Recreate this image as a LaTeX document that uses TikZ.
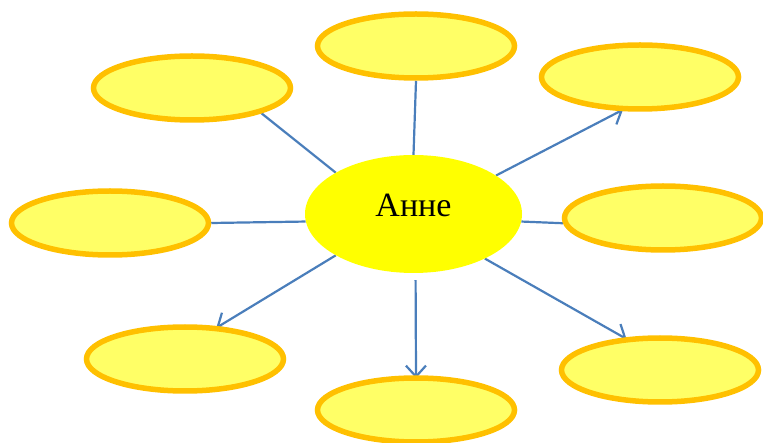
\documentclass[tikz,border=0pt]{standalone}
\usepackage{fontspec}
\setmainfont{Liberation Serif}
\usepackage{xcolor}
\usepackage{tikz}
\usetikzlibrary{shapes,arrows,arrows.meta,positioning,backgrounds}

\definecolor{bubbleedge}{HTML}{FFC000}
\definecolor{bubblefill}{HTML}{FFFF66}
\definecolor{centrefill}{HTML}{FFFF00}
\definecolor{linkblue}{HTML}{4A7EBB}

\tikzset{
  bubble/.style={shape=ellipse, draw=bubbleedge, fill=bubblefill, line width=5.5pt,
    minimum width=197pt, minimum height=64pt, inner sep=0pt},
  link/.style={draw=linkblue, line width=2.2pt},
  linkarrow/.style={link, -{Straight Barb[length=11pt,width=20pt,line width=2.2pt]}, shorten >=-3pt}
}

\begin{document}
\begin{tikzpicture}[x=1pt,y=-1pt]
\useasboundingbox (0,0) rectangle (763,443);

% Centre word
\node [shape=ellipse, fill=centrefill, minimum width=217pt, minimum height=118pt, inner sep=0pt,
  text height=24pt, text depth=18pt, font=\fontsize{34}{40}\selectfont] at (413.5,214) (anne) {Анне};

% Empty bubbles round it
\node [bubble] at (416,46)  (top_bubble) {};
\node [bubble] at (192,88)  (top_left_bubble) {};
\node [bubble] at (640,77)  (top_right_bubble) {};
\node [bubble] at (110,223) (left_bubble) {};
\node [bubble] at (663,218) (right_bubble) {};
\node [bubble] at (185,359) (bottom_left_bubble) {};
\node [bubble] at (416,410) (bottom_bubble) {};
\node [bubble] at (660,370) (bottom_right_bubble) {};

\begin{scope}[on background layer]
% Plain links
\draw [link] (anne.north) -- (top_bubble.south);
\draw [link] (anne.152) -- (top_left_bubble.-20);
\draw [link] (anne.184) -- (left_bubble.east);
\draw [link] (anne.-4) -- (right_bubble.183);

% Links with arrows
\draw [linkarrow] (anne.25) -- (top_right_bubble.240);
\draw [linkarrow] (anne.208) -- (bottom_left_bubble.44);
\draw [linkarrow, shorten <=7pt] (anne.-88) -- (bottom_bubble.north);
\draw [linkarrow] (anne.-32) -- (bottom_right_bubble.138);
\end{scope}

\end{tikzpicture}
\end{document}
